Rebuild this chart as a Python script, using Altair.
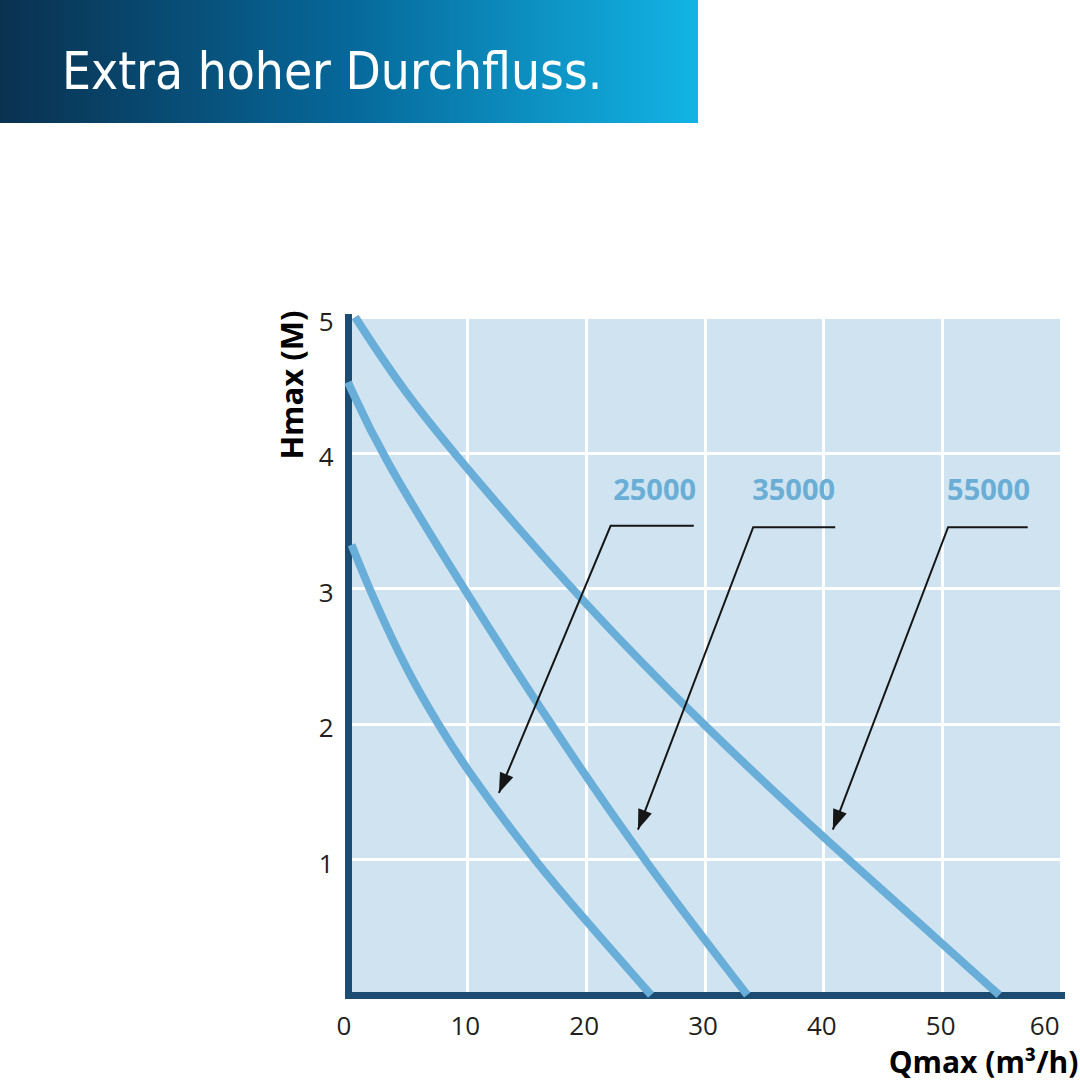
import math

import altair as alt
import pandas as pd

# ---- text -----------------------------------------------------------------
TITLE = "Extra hoher Durchfluss."
X_TITLE = "Qmax (m³/h)"
Y_TITLE = "Hmax (M)"

X_TICKS = [0, 10, 20, 30, 40, 50, 60]
Y_TICKS = [1, 2, 3, 4, 5]

# ---- pump curves: flow Q (m³/h) against head H (m) --------------------------
models = ["25000", "35000", "55000"]
q_25000 = [0.3, 2.0, 5.0, 7.7, 10.0, 15.6, 20.0, 25.5]
h_25000 = [3.32, 2.95, 2.38, 1.98, 1.66, 1.0, 0.55, 0.0]
q_35000 = [0.0, 2.7, 9.7, 17.0, 24.8, 33.6]
h_35000 = [4.52, 4.0, 3.0, 2.0, 1.0, 0.0]
q_55000 = [0.6, 4.6, 10.0, 20.0, 30.0, 40.0, 50.0, 54.8]
h_55000 = [5.0, 4.46, 3.88, 2.87, 1.98, 1.16, 0.38, 0.0]

# ---- model labels with leader arrows ----------------------------------------
label_q = [25.8, 37.5, 53.9]
label_h = [3.72, 3.72, 3.72]
leader_end_q = [29.1, 41.0, 57.2]
leader_corner_q = [22.1, 34.1, 50.5]
leader_h = [3.46, 3.45, 3.45]
tip_q = [12.7, 24.4, 40.8]
tip_h = [1.49, 1.22, 1.22]

# ---- style ------------------------------------------------------------------
W, H = 713, 678
Q_MAX, H_MAX = 60, 5
AXIS_COLOR = "#1c4c72"
PLOT_BG = "#cfe4f0"
CURVE_COLOR = "#69aed9"
LABEL_COLOR = "#6aaed6"
INK = "#161616"
TEXT_COLOR = "#231f20"
FONT = "Open Sans"
BANNER_FONT = "Liberation Sans Narrow, DejaVu Sans Condensed, Open Sans"

# ---- tables -----------------------------------------------------------------
curve_rows = []
for name, qs, hs in [("25000", q_25000, h_25000),
                     ("35000", q_35000, h_35000),
                     ("55000", q_55000, h_55000)]:
    for i, (q, h) in enumerate(zip(qs, hs)):
        curve_rows.append({"model": name, "i": i, "q": q, "h": h})
curve_df = pd.DataFrame(curve_rows)

leader_rows = []
head_rows = []
px_q = W / Q_MAX
px_h = H / H_MAX
for k, name in enumerate(models):
    pts = [(leader_end_q[k], leader_h[k]),
           (leader_corner_q[k], leader_h[k]),
           (tip_q[k], tip_h[k])]
    for j, (q, h) in enumerate(pts):
        leader_rows.append({"model": name, "j": j, "q": q, "h": h})
    # arrowhead direction in screen space (clockwise degrees from "up")
    dx = (tip_q[k] - leader_corner_q[k]) * px_q
    dy = -(tip_h[k] - leader_h[k]) * px_h
    ang = math.degrees(math.atan2(dx, -dy)) % 360
    head_rows.append({"model": name, "q": tip_q[k], "h": tip_h[k], "angle": ang})
leader_df = pd.DataFrame(leader_rows)
head_df = pd.DataFrame(head_rows)
label_df = pd.DataFrame({"model": models, "q": label_q, "h": label_h})
banner_df = pd.DataFrame({"t": [TITLE]})

# ---- scales and axes --------------------------------------------------------
x_scale = alt.Scale(domain=[0, Q_MAX], nice=False, zero=False)
y_scale = alt.Scale(domain=[0, H_MAX], nice=False, zero=False)

x_axis = alt.Axis(
    values=X_TICKS, title=X_TITLE, format="d",
    grid=True, gridColor="white", gridWidth=3,
    gridOpacity={"condition": {"test": "datum.value == 0", "value": 0}, "value": 1},
    domainColor=AXIS_COLOR, domainWidth=7, domainCap="square",
    ticks=False, tickSize=0,
    labelFont=FONT, labelFontSize=26, labelColor=TEXT_COLOR, labelPadding=18,
    labelOffset={"condition": {"test": "datum.value == 0", "value": -12}, "value": -2},
    titleFont=FONT, titleFontSize=30, titleFontWeight="bold", titleColor="black",
    titleX=730, titleY=77, titleAlign="right", titleBaseline="alphabetic",
)
y_axis = alt.Axis(
    values=Y_TICKS, title=Y_TITLE, format="d",
    grid=True, gridColor="white", gridWidth=3,
    domainColor=AXIS_COLOR, domainWidth=7, domainCap="square",
    ticks=False, tickSize=0,
    labelFont=FONT, labelFontSize=26, labelColor=TEXT_COLOR, labelPadding=15,
    labelOffset=5, labelBaseline="middle",
    titleFont=FONT, titleFontSize=31, titleFontWeight="bold", titleColor="black",
    titleAngle=270, titleX=-55, titleY=-7, titleAlign="right", titleBaseline="middle",
)

X = alt.X("q:Q", scale=x_scale, axis=x_axis)
Y = alt.Y("h:Q", scale=y_scale, axis=y_axis)

# ---- layers -----------------------------------------------------------------
gradient = alt.LinearGradient(
    gradient="linear",
    stops=[alt.GradientStop(color="#0a3150", offset=0),
           alt.GradientStop(color="#06689a", offset=0.5),
           alt.GradientStop(color="#12b4e4", offset=1)],
    x1=0, x2=1, y1=0, y2=0,
)
banner = alt.Chart(banner_df).mark_rect(color=gradient).encode(
    x=alt.value(-348), x2=alt.value(350), y=alt.value(-317), y2=alt.value(-194)
)
banner_text = alt.Chart(banner_df).mark_text(
    font=BANNER_FONT, fontSize=51, color="white", align="left", baseline="alphabetic"
).encode(x=alt.value(-286), y=alt.value(-228), text="t:N")

# smooth performance curves through the read-off points
curves = alt.Chart(curve_df).mark_line(
    strokeWidth=8, color=CURVE_COLOR, strokeCap="butt", interpolate="basis"
).encode(x=X, y=Y, detail="model:N", order="i:Q")

leaders = alt.Chart(leader_df).mark_line(strokeWidth=2, color=INK).encode(
    x=X, y=Y, detail="model:N", order="j:Q"
)

heads = alt.Chart(head_df).mark_point(
    shape="M0,0L-0.36,1L0.36,1Z", filled=True, size=1600, color=INK,
    opacity=1, strokeWidth=0,
).encode(x=X, y=Y, angle=alt.Angle("angle:Q", scale=None))

labels = alt.Chart(label_df).mark_text(
    font=FONT, fontSize=29, fontWeight="bold", color=LABEL_COLOR,
    align="center", baseline="middle",
).encode(x=X, y=Y, text="model:N")

chart = (
    alt.layer(curves, banner, banner_text, leaders, heads, labels)
    .properties(
        width=W, height=H,
        autosize=alt.AutoSizeParams(type="none"),
        padding={"left": 348, "top": 317, "right": 19, "bottom": 86},
        background="white",
    )
    .configure_view(fill=PLOT_BG, strokeWidth=0)
)

chart.save("out.html", embed_options={"renderer": "svg", "actions": False})
